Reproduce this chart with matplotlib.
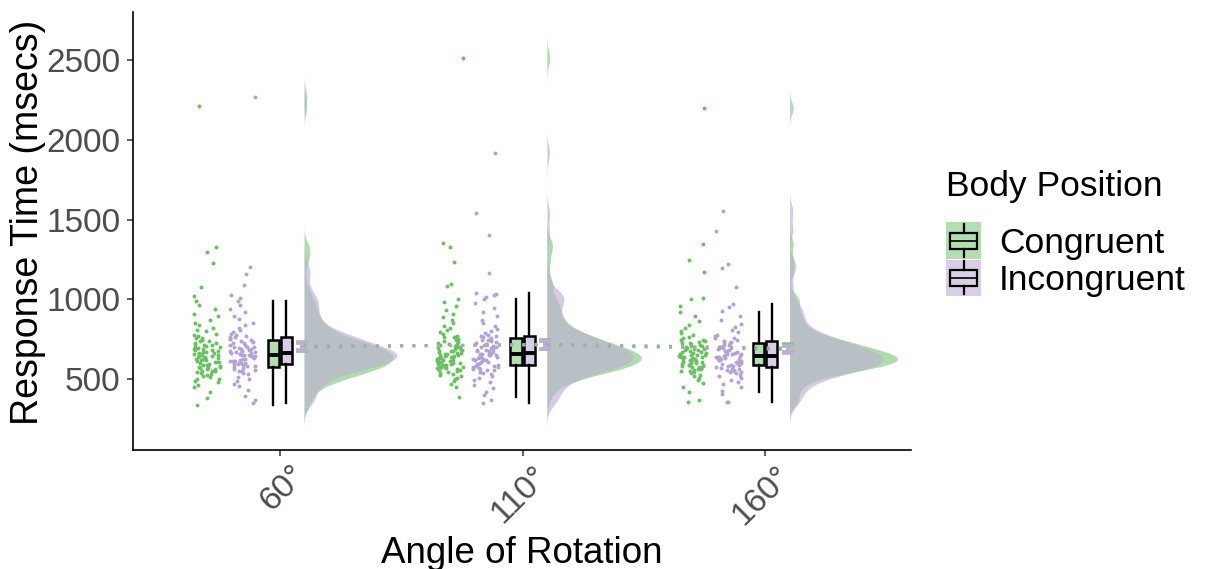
import numpy as np
import matplotlib.pyplot as plt
import matplotlib.transforms as mtransforms
from matplotlib.patches import Rectangle
from matplotlib.lines import Line2D
from matplotlib.legend_handler import HandlerBase
from matplotlib.colors import to_rgba

plt.rcParams['font.family'] = ['Liberation Sans', 'DejaVu Sans']

# Response times (ms), one list per angle x body position
angles = ['60°', '110°', '160°']
groups = ['Congruent', 'Incongruent']

cong_60 = [338, 381, 421, 448, 466, 479, 490, 498, 503, 511,
           520, 524, 533, 536, 544, 551, 553, 561, 566, 570,
           575, 577, 585, 588, 590, 597, 601, 606, 608, 615,
           618, 620, 627, 631, 634, 640, 645, 647, 651, 658,
           660, 663, 669, 672, 678, 684, 687, 690, 697, 703,
           706, 712, 719, 725, 729, 737, 744, 755, 760, 767,
           779, 785, 799, 806, 822, 838, 851, 870, 893, 910,
           939, 962, 988, 1019, 1076, 1226, 1297, 1326, 2212,
           548, 567, 583, 604, 623, 641, 654, 666, 681, 699, 716, 741]
incong_60 = [352, 366, 397, 431, 457, 471, 489, 503, 516, 529,
             538, 548, 556, 563, 571, 577, 583, 588, 592, 597,
             602, 607, 611, 614, 619, 624, 628, 633, 637, 642,
             645, 649, 653, 657, 660, 662, 665, 669, 674, 679,
             683, 688, 694, 699, 704, 711, 716, 724, 731, 739,
             745, 753, 761, 770, 778, 784, 793, 806, 818, 836,
             853, 874, 897, 918, 941, 967, 992, 1011, 1025, 1088,
             1161, 1202, 2268,
             551, 579, 598, 616, 639, 651, 667, 686, 702, 728, 749, 766]
cong_110 = [385, 449, 468, 486, 499, 508, 517, 526, 534, 541,
            547, 553, 558, 563, 567, 571, 574, 577, 581, 586,
            590, 594, 599, 603, 607, 611, 615, 619, 622, 627,
            631, 636, 640, 643, 647, 651, 654, 657, 660, 664,
            668, 673, 677, 681, 685, 690, 696, 702, 708, 713,
            720, 728, 735, 743, 750, 758, 766, 773, 781, 792,
            806, 819, 833, 851, 870, 888, 910, 931, 957, 980,
            1004, 1085, 1098, 1232, 1326, 1352, 2512,
            556, 575, 592, 613, 634, 650, 662, 679, 699, 718, 741, 762]
incong_110 = [350, 372, 398, 418, 445, 466, 482, 497, 509, 520,
              531, 539, 547, 554, 561, 566, 571, 575, 580, 585,
              590, 595, 600, 604, 609, 614, 618, 623, 628, 632,
              636, 640, 645, 649, 653, 656, 660, 664, 669, 674,
              679, 685, 691, 697, 703, 709, 716, 724, 731, 739,
              747, 755, 763, 769, 778, 788, 800, 815, 832, 851,
              872, 896, 921, 948, 975, 1001, 1012, 1024, 1031, 1037,
              1163, 1405, 1538, 1918,
              558, 577, 597, 620, 638, 651, 663, 682, 700, 721, 744, 771]
cong_160 = [356, 372, 420, 452, 478, 495, 507, 518, 528, 536,
            543, 550, 556, 561, 566, 571, 575, 579, 583, 587,
            591, 595, 598, 602, 606, 609, 613, 616, 620, 623,
            627, 630, 633, 636, 639, 642, 646, 650, 654, 658,
            662, 666, 670, 675, 680, 685, 690, 695, 701, 707,
            713, 719, 726, 733, 739, 747, 755, 765, 776, 789,
            804, 822, 842, 866, 893, 921, 955, 1004, 1008, 1168,
            1245, 1349, 2198,
            553, 573, 589, 604, 625, 641, 652, 668, 687, 705, 723, 744]
incong_160 = [355, 358, 404, 428, 449, 467, 483, 496, 508, 518,
              527, 535, 542, 549, 555, 560, 564, 569, 574, 579,
              584, 589, 594, 598, 603, 608, 612, 617, 621, 626,
              630, 634, 638, 641, 645, 650, 655, 660, 665, 670,
              676, 682, 688, 694, 701, 708, 715, 723, 731, 740,
              748, 757, 767, 779, 792, 808, 826, 847, 871, 898,
              928, 949, 968, 1076, 1195, 1220, 1430, 1551,
              545, 566, 587, 606, 624, 643, 657, 673, 692, 712, 735, 760]

data = {'Congruent': [cong_60, cong_110, cong_160],
        'Incongruent': [incong_60, incong_110, incong_160]}
colors = {'Congruent': '#7FC97F', 'Incongruent': '#BEAED4'}
point_colors = {'Congruent': '#6CBF62', 'Incongruent': '#B3A2D3'}

# offsets of each layer from the category centre (x units)
jitter_off = {'Congruent': -0.30, 'Incongruent': -0.152}
box_off = {'Congruent': -0.027, 'Incongruent': 0.027}
mean_off = 0.093
dens_off = 0.10


def kde(values):
    v = np.asarray(values, float)
    n = len(v)
    iqr = np.subtract(*np.percentile(v, [75, 25]))
    bw = 0.9 * min(v.std(ddof=1), iqr / 1.34) * n ** -0.2
    grid = np.linspace(v.min() - 3 * bw, v.max() + 3 * bw, 600)
    z = (grid[:, None] - v[None, :]) / bw
    dens = np.exp(-0.5 * z ** 2).sum(axis=1) / (n * bw * np.sqrt(2 * np.pi))
    return grid, dens


fig = plt.figure(figsize=(12.06, 5.69), dpi=100)
ax = fig.add_axes([0.110, 0.209, 0.645, 0.770])

xpos = np.arange(1, len(angles) + 1)
rng = np.random.default_rng(11)  # horizontal jitter only

# half violins
dens_all = {g: [kde(vals) for vals in data[g]] for g in groups}
dmax = max(d.max() for g in groups for _, d in dens_all[g])
for g in groups:
    for x, (grid, d) in zip(xpos, dens_all[g]):
        ax.fill_betweenx(grid, x + dens_off, x + dens_off + d / dmax * 0.445,
                         color=colors[g], alpha=0.63, lw=0, zorder=1)

# jittered raw points
for g in groups:
    for x, vals in zip(xpos, data[g]):
        jx = x + jitter_off[g] + rng.uniform(-0.055, 0.055, len(vals))
        ax.scatter(jx, vals, s=8, color=point_colors[g], lw=0, zorder=2)

# boxplots
for g in groups:
    ax.boxplot(data[g], positions=xpos + box_off[g], widths=0.046,
               patch_artist=True, showfliers=False, whis=1.5,
               manage_ticks=False, zorder=3,
               boxprops=dict(facecolor=to_rgba(colors[g], 0.6), edgecolor='black', lw=1.8),
               whiskerprops=dict(color='black', lw=1.7),
               capprops=dict(lw=0),
               medianprops=dict(color='black', lw=2.8))

# means with standard errors and connecting dotted line
for g in groups:
    means = [np.mean(v) for v in data[g]]
    ses = [np.std(v, ddof=1) / np.sqrt(len(v)) for v in data[g]]
    ax.plot(xpos + mean_off, means, ls=(0, (1, 3.0)), lw=2.2,
            color='#ABA4C4' if g == 'Incongruent' else colors[g], zorder=4)
    ax.errorbar(xpos + mean_off, means, yerr=ses, fmt='none', ecolor=colors[g],
                elinewidth=2.8, capsize=4, capthick=2.6, zorder=5)

ax.set_xlim(0.394, 3.598)
ax.set_ylim(55, 2801)
ax.set_yticks([500, 1000, 1500, 2000, 2500])
ax.set_xticks(xpos)
ax.set_xticklabels(angles, rotation=45, ha='right', va='top', rotation_mode='anchor')
for s in ['top', 'right']:
    ax.spines[s].set_visible(False)
for s in ['left', 'bottom']:
    ax.spines[s].set_linewidth(1.2)
ax.tick_params(axis='both', colors='#333333', length=4, width=1.1,
               labelsize=24, labelcolor='#4D4D4D')
ax.tick_params(axis='y', pad=5)
ax.tick_params(axis='x', pad=3)
# nudge the rotated tick labels to the right, as in the original
shift = mtransforms.ScaledTranslation(0.10, 0.0, fig.dpi_scale_trans)
for lab in ax.get_xticklabels():
    lab.set_transform(lab.get_transform() + shift)

ax.set_ylabel('Response Time (msecs)', fontsize=27)
ax.yaxis.set_label_coords(-0.111, 0.52)
ax.set_xlabel('Angle of Rotation', fontsize=26.5)
ax.xaxis.set_label_coords(0.5, -0.197)


class BoxKey(HandlerBase):
    def create_artists(self, legend, orig_handle, xdescent, ydescent,
                       width, height, fontsize, trans):
        x0, y0 = -xdescent, -ydescent
        bg = Rectangle((x0, y0), width, height, facecolor=orig_handle.get_facecolor(),
                       edgecolor='none', transform=trans)
        box = Rectangle((x0 + 0.12 * width, y0 + 0.28 * height), 0.76 * width, 0.44 * height,
                        facecolor='none', edgecolor='black', lw=1.6, transform=trans)
        med = Line2D([x0 + 0.12 * width, x0 + 0.88 * width], [y0 + 0.5 * height] * 2,
                     color='black', lw=1.2, transform=trans)
        w1 = Line2D([x0 + 0.5 * width] * 2, [y0 + 0.04 * height, y0 + 0.28 * height],
                    color='black', lw=1.6, transform=trans)
        w2 = Line2D([x0 + 0.5 * width] * 2, [y0 + 0.72 * height, y0 + 0.96 * height],
                    color='black', lw=1.6, transform=trans)
        return [bg, box, med, w1, w2]


handles = [Rectangle((0, 0), 1, 1, facecolor=to_rgba(colors[g], 0.6)) for g in groups]
leg = fig.legend(handles, groups, handler_map={Rectangle: BoxKey()},
                 loc='upper left', bbox_to_anchor=(946 / 1206, 1 - 170 / 569),
                 frameon=False, title='Body Position', fontsize=25.5,
                 title_fontsize=25.5, handlelength=1.0, handleheight=1.2,
                 handletextpad=0.5, labelspacing=0.0, borderpad=0, borderaxespad=0)
leg._legend_box.align = 'left'
leg._legend_box.sep = 14

fig.savefig('out.png', dpi=100)
